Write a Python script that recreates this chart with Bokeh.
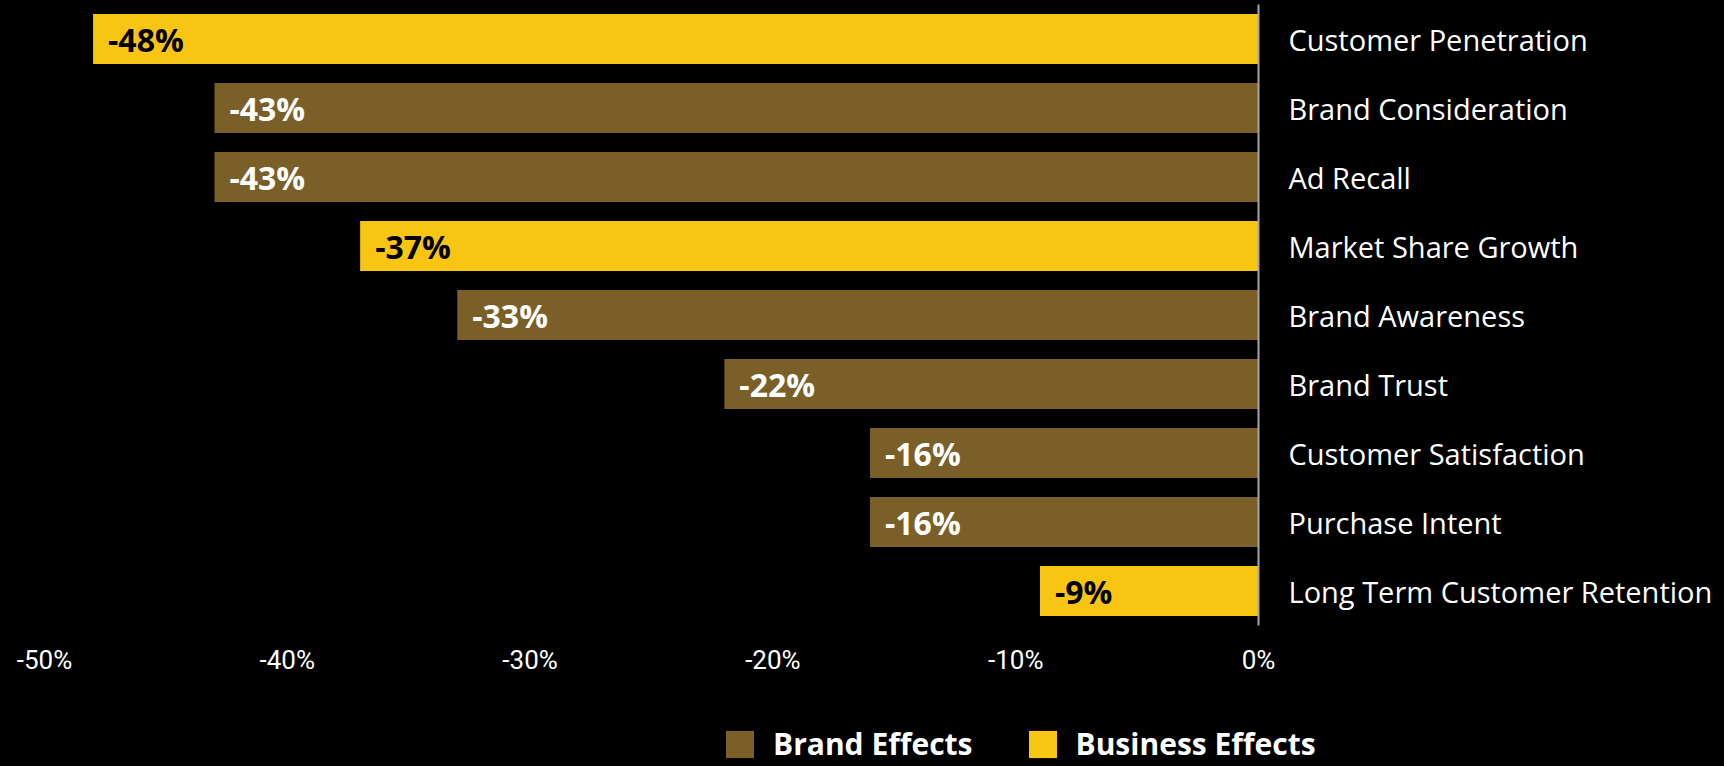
from bokeh.plotting import figure
from bokeh.models import (ColumnDataSource, FactorRange, Range1d, LinearAxis, CategoricalAxis,
                          FixedTicker, PrintfTickFormatter, Legend, LegendItem)
from bokeh.layouts import column
from bokeh.core.properties import value
from bokeh.embed import file_html
from bokeh.resources import INLINE

categories = ["Customer Penetration", "Brand Consideration", "Ad Recall", "Market Share Growth",
              "Brand Awareness", "Brand Trust", "Customer Satisfaction", "Purchase Intent",
              "Long Term Customer Retention"]
values = [-48, -43, -43, -37, -33, -22, -16, -16, -9]
effect_type = ["Business", "Brand", "Brand", "Business", "Brand", "Brand", "Brand", "Brand", "Business"]
x_ticks = [-50, -40, -30, -20, -10, 0]
legend_labels = ["Brand Effects", "Business Effects"]

BRAND = "#7A5F29"
BUSINESS = "#F9C513"
text_map = {"Brand": "#FFFFFF", "Business": "#000000"}
BLACK_PAGE = {"background-color": "black"}

def subset(kind):
    idx = [i for i, t in enumerate(effect_type) if t == kind]
    return ColumnDataSource(dict(
        cat=[categories[i] for i in idx],
        val=[values[i] for i in idx],
        label=["%d%%" % values[i] for i in idx],
        tcolor=[text_map[kind] for _ in idx],
    ))

brand_src = subset("Brand")
bus_src = subset("Business")

p = figure(y_range=FactorRange(factors=list(reversed(categories))),
           x_range=Range1d(-50, 0),
           frame_width=1214, frame_height=621,
           min_border_left=44, min_border_right=466, min_border_top=4, min_border_bottom=81,
           output_backend="svg", toolbar_location=None,
           background_fill_color="black", border_fill_color="black",
           x_axis_location=None, y_axis_location=None, frame_align=False)
p.outline_line_color = None
p.grid.visible = False
p.styles = BLACK_PAGE

p.hbar(y="cat", right="val", left=0, height=0.725, source=brand_src,
       fill_color=BRAND, line_color=None)
p.hbar(y="cat", right="val", left=0, height=0.725, source=bus_src,
       fill_color=BUSINESS, line_color=None)

for src in (brand_src, bus_src):
    p.text(x="val", y="cat", text="label", source=src, x_offset=15,
           text_baseline="middle", text_align="left", text_color="tcolor",
           text_font=value("Open Sans"), text_font_style="bold", text_font_size="32px")

xaxis = LinearAxis(ticker=FixedTicker(ticks=x_ticks),
                   formatter=PrintfTickFormatter(format="%d%%"))
xaxis.axis_line_color = None
xaxis.major_tick_line_color = None
xaxis.minor_tick_line_color = None
xaxis.major_label_text_color = "white"
xaxis.major_label_text_font = "Roboto"
xaxis.major_label_text_font_size = "26px"
xaxis.major_label_standoff = 13
p.add_layout(xaxis, "below")

yaxis = CategoricalAxis()
yaxis.axis_line_color = "#A6A6A6"
yaxis.axis_line_width = 2
yaxis.major_tick_line_color = None
yaxis.minor_tick_line_color = None
yaxis.major_label_text_color = "white"
yaxis.major_label_text_font = "Open Sans"
yaxis.major_label_text_font_size = "29px"
yaxis.major_label_standoff = 24
p.add_layout(yaxis, "right")

# legend strip below the chart; its bars sit outside its visible range
lg = figure(width=1724, height=60, x_range=Range1d(0, 1), y_range=Range1d(0, 1),
            min_border=0, output_backend="svg", toolbar_location=None,
            background_fill_color="black", border_fill_color="black",
            x_axis_location=None, y_axis_location=None, frame_align=False)
lg.outline_line_color = None
lg.grid.visible = False
lg.styles = BLACK_PAGE
r1 = lg.hbar(y="val", right="val", left=0, height=0.5, source=brand_src,
             fill_color=BRAND, line_color=None)
r2 = lg.hbar(y="val", right="val", left=0, height=0.5, source=bus_src,
             fill_color=BUSINESS, line_color=None)
legend = Legend(items=[LegendItem(label=legend_labels[0], renderers=[r1]),
                       LegendItem(label=legend_labels[1], renderers=[r2])],
                location=(722, 2), orientation="horizontal",
                background_fill_alpha=0, border_line_color=None,
                padding=0, margin=0, spacing=52, label_standoff=16,
                glyph_width=35, glyph_height=34, label_height=34,
                label_text_color="white", label_text_font="Open Sans",
                label_text_font_style="bold", label_text_font_size="30px")
lg.add_layout(legend, "center")

layout = column(p, lg, spacing=0, styles=BLACK_PAGE)
open("out.html", "w").write(file_html(layout, INLINE))
